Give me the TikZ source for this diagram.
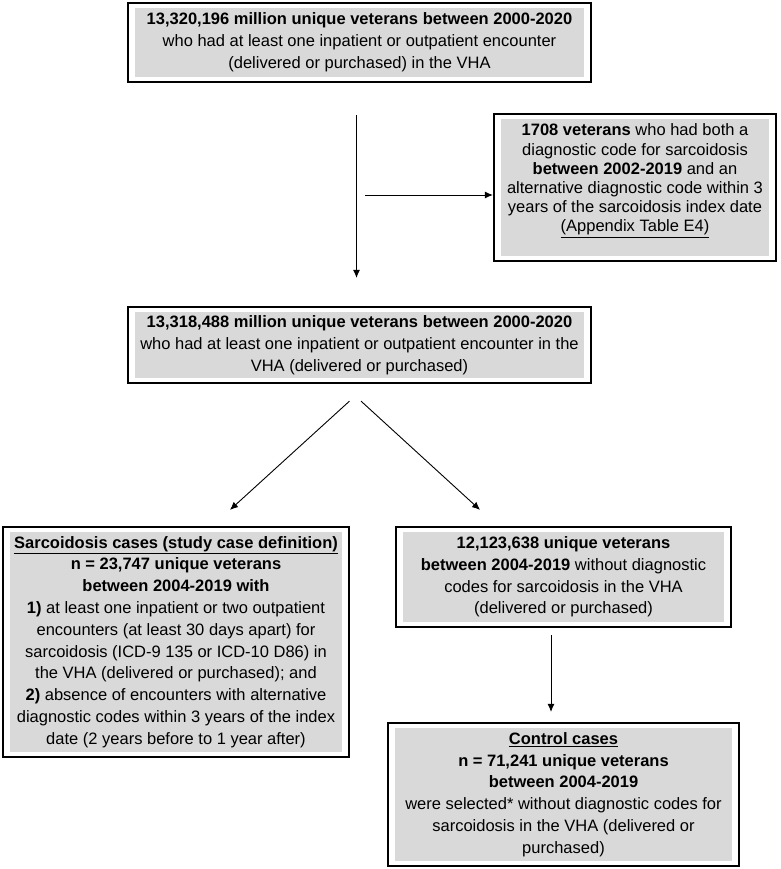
\documentclass[tikz,border=0pt]{standalone}
\usepackage{fontspec}
\setmainfont{Liberation Sans}
\usetikzlibrary{arrows.meta,fit}
\definecolor{boxgray}{RGB}{217,217,217}

\begin{document}
\begin{tikzpicture}[x=1pt,y=1pt,>={Latex[length=8pt,width=7pt]},
  txt/.style={fill=boxgray,inner sep=0pt,align=center,font=\fontsize{16.5}{21.8}\selectfont},
  frame/.style={draw,line width=1.8pt,inner xsep=7pt,inner ysep=5pt},
  flow/.style={->,line width=0.9pt}]
\useasboundingbox (0,0) rectangle (780,-869);
\node[txt,minimum width=449pt,minimum height=69pt] (all) at (359.5,-42.5)
  {\textbf{13,320,196 million unique veterans between 2000-2020}\\
   who had at least one inpatient or outpatient encounter\\
   (delivered or purchased) in the VHA};
\node[txt,minimum width=268pt,minimum height=137pt,font=\fontsize{16.5}{19.2}\selectfont] (excl) at (635,-187.5)
  {\textbf{1708 veterans} who had both a\\
   diagnostic code for sarcoidosis\\
   \textbf{between 2002-2019} and an\\
   alternative diagnostic code within 3\\
   years of the sarcoidosis index date\\
   \underline{(Appendix Table E4)}\\ \mbox{}};
\node[txt,minimum width=449pt,minimum height=66pt] (cohort) at (359.5,-345)
  {\textbf{13,318,488 million unique veterans between 2000-2020}\\
   who had at least one inpatient or outpatient encounter in the\\
   VHA (delivered or purchased)};
\node[txt,minimum width=332pt,minimum height=220pt] (cases) at (176,-642)
  {\underline{\textbf{Sarcoidosis cases (study case definition)}}\\
   \textbf{n = 23,747 unique veterans}\\
   \textbf{between 2004-2019 with}\\
   \textbf{1)} at least one inpatient or two outpatient\\
   encounters (at least 30 days apart) for\\
   sarcoidosis (ICD-9 135 or ICD-10 D86) in\\
   the VHA (delivered or purchased); and\\
   \textbf{2)} absence of encounters with alternative\\
   diagnostic codes within 3 years of the index\\
   date (2 years before to 1 year after)};
\node[txt,minimum width=321pt,minimum height=90pt] (noncase) at (563.5,-577)
  {\textbf{12,123,638 unique veterans}\\
   \textbf{between 2004-2019} without diagnostic\\
   codes for sarcoidosis in the VHA\\
   (delivered or purchased)};
\node[txt,minimum width=337pt,minimum height=133pt] (controls) at (563.5,-794.5)
  {\underline{\textbf{Control cases}}\\
   \textbf{n = 71,241 unique veterans}\\
   \textbf{between 2004-2019}\\
   were selected* without diagnostic codes for\\
   sarcoidosis in the VHA (delivered or\\
   purchased)};
% outer frames
\node[frame,fit=(all)] (allF) {};
\node[frame,fit=(excl)] (exclF) {};
\node[frame,fit=(cohort)] (cohortF) {};
\node[frame,fit=(cases)] (casesF) {};
\node[frame,fit=(noncase)] (noncaseF) {};
\node[frame,fit=(controls)] (controlsF) {};

\draw[flow] ([xshift=-3pt,yshift=-32pt]allF.south) -- ([xshift=-3pt,yshift=28pt]cohortF.north);
\coordinate (branch) at (365,-195);
\draw[flow] (branch) -- (branch -| exclF.west);
\draw[flow] ([xshift=-10pt,yshift=-17pt]cohortF.south) -- ([xshift=54pt,yshift=16pt]casesF.north);
\draw[flow] ([xshift=1.5pt,yshift=-17pt]cohortF.south) -- ([xshift=-83.5pt,yshift=16pt]noncaseF.north);
\draw[flow] ([xshift=-12.5pt,yshift=-7pt]noncaseF.south) -- ([xshift=-12.5pt,yshift=10pt]controlsF.north);
\end{tikzpicture}
\end{document}
